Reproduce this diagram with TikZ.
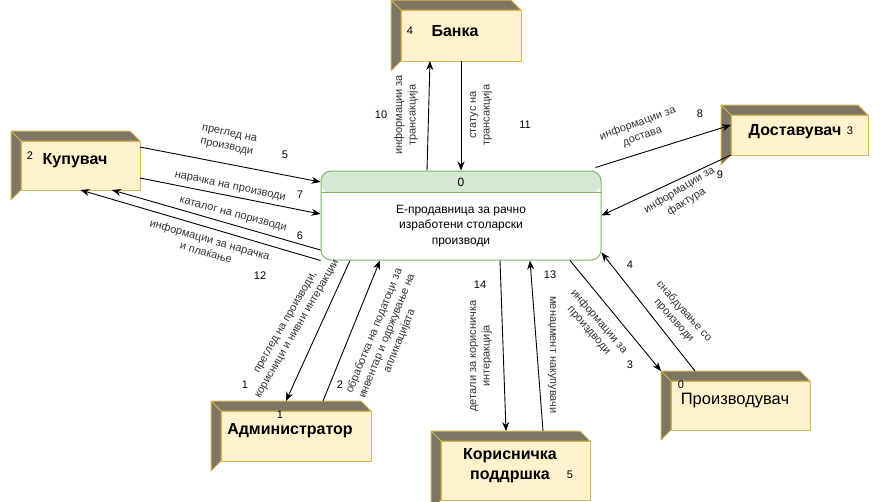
\documentclass[tikz,border=0pt]{standalone}
\usepackage{fontspec}
\setmainfont{Liberation Sans}
\usetikzlibrary{arrows.meta}

\definecolor{krem}{HTML}{FFF2CC}
\definecolor{zlatna}{HTML}{D6B656}
\definecolor{temna}{HTML}{7D7662}
\definecolor{zelena}{HTML}{D5E8D4}
\definecolor{zelenarab}{HTML}{82B366}

% zadna (temna) strana na kockata okolu eden entitet
\newcommand{\kockazad}[1]{%
  \filldraw[kocka] ([shift={(-10,10)}]#1.south west) -- ([shift={(-10,-10)}]#1.north west)
    -- ([shift={(-10,-10)}]#1.north east) -- (#1.north east) -- (#1.north west)
    -- (#1.south west) -- cycle;
  \draw[kocka] ([shift={(-10,-10)}]#1.north west) -- (#1.north west);}

\begin{document}
\begin{tikzpicture}[x=1pt, y=-1pt, >=Stealth,
    entitet/.style={draw=zlatna, fill=krem, line width=1pt, inner sep=0pt, outer sep=0pt},
    kocka/.style={fill=temna, draw=zlatna, line width=1pt, line join=round},
    ime/.style={font=\fontsize{16}{20}\selectfont\bfseries, align=center},
    mal/.style={font=\fontsize{11}{13}\selectfont},
    lbl/.style={font=\fontsize{11}{13.5}\selectfont, align=center, text=black!80},
    tek/.style={-{Stealth[length=9pt,width=7pt]}, line width=0.9pt}]

    \useasboundingbox (0,0) rectangle (881,501);

    % ==================================================
    % proces 0
    % ==================================================
    \node[draw=zelenarab, fill=white, line width=1pt, rounded corners=10pt,
          minimum width=280pt, minimum height=89pt, inner sep=0pt,
          path picture={\fill[zelena] (path picture bounding box.north west)
            rectangle ([yshift=-22pt]path picture bounding box.north east);}]
      (proc) at (461,215.5) {};
    \draw[zelenarab, line width=1pt] ([yshift=-22pt]proc.north west) -- ([yshift=-22pt]proc.north east);
    \node[font=\fontsize{12}{14}\selectfont] (procbr) at (461,182) {0};
    \node[font=\fontsize{12}{15.5}\selectfont, align=center] (proctekst) at (461,226)
      {Е-продавница за рачно\\изработени столарски\\производи};

    % ==================================================
    % entiteti
    % ==================================================

    % Банка
    \node[entitet, minimum width=120pt, minimum height=51pt] (banka) at (461,35.5) {};
    \kockazad{banka}
    \node[mal] (bankabr) at (410,31) {4};
    \node[ime] (bankaime) at (455,31) {Банка};

    % Купувач
    \node[entitet, minimum width=119pt, minimum height=49pt] (kupuvac) at (80.5,165.5) {};
    \kockazad{kupuvac}
    \node[mal] (kupuvacbr) at (30,156) {2};
    \node[ime] (kupuvacime) at (75,161) {Купувач};

    % Доставувач
    \node[entitet, minimum width=137pt, minimum height=40pt] (dostavuvac) at (799.5,135) {};
    \kockazad{dostavuvac}
    \node[ime] (dostavuvacime) at (795,132) {Доставувач};
    \node[mal] (dostavuvacbr) at (850,131) {3};

    % Администратор
    \node[entitet, minimum width=150pt, minimum height=50pt] (administrator) at (296,436) {};
    \kockazad{administrator}
    \node[mal] (administratorbr) at (280,415) {1};
    \node[ime] (administratorime) at (290,431) {Администратор};

    % Корисничка поддршка
    \node[entitet, minimum width=149pt, minimum height=59pt] (korisnicka) at (515.5,470.5) {};
    \kockazad{korisnicka}
    \node[ime] (korisnickaime) at (510,466) {Корисничка\\поддршка};
    \node[mal] (korisnickabr) at (570,475) {5};

    % Производувач
    \node[entitet, minimum width=139pt, minimum height=49pt] (proizveduvac) at (740.5,405.5) {};
    \kockazad{proizveduvac}
    \node[mal] (proizveduvacbr) at (681,385) {0};
    \node[font=\fontsize{16.5}{20}\selectfont] (proizveduvacime) at (735,401) {Производувач};

    % ==================================================
    % tekovi
    % ==================================================

    % Банка
    \draw[tek] ([xshift=-34pt]proc.north) -- ([xshift=-31pt]banka.south);
    \draw[tek] (banka.south) -- (proc.north);
    \node[lbl, rotate=90] (l10) at (406,115) {информации за\\трансакција};
    \node[mal] (b10) at (381,115) {10};
    \node[lbl, rotate=90] (l11) at (481,115) {статус на\\трансакција};
    \node[mal] (b11) at (525,125) {11};

    % Купувач
    \draw[tek] ([yshift=18.5pt]kupuvac.east) -- ([yshift=33.5pt]proc.west);
    \draw[tek] ([yshift=-12.5pt]kupuvac.east) -- ([yshift=1.5pt]proc.west);
    \draw[tek] ([yshift=-34.5pt]proc.west) -- ([xshift=31.5pt]kupuvac.south);
    \draw[tek] (proc.south west) -- (kupuvac.south);
    \node[lbl, rotate=-12] (l5) at (228,141) {преглед на\\производи};
    \node[mal] (b5) at (285,155) {5};
    \node[lbl, rotate=-12] (l7) at (230,187) {нарачка на производи};
    \node[mal] (b7) at (300,195) {7};
    \node[lbl, rotate=-15] (l6) at (233,215) {каталог на поризводи};
    \node[mal] (b6) at (300,236) {6};
    \node[lbl, rotate=-16] (l12) at (208,246) {информации за нарачка\\и плаќање};
    \node[mal] (b12) at (260,276) {12};

    % Доставувач
    \draw[tek] ([shift={(-6,-3)}]proc.north east) -- ([yshift=10pt]dostavuvac.west);
    \draw[tek] (dostavuvac.south west) -- (proc.east);
    \node[lbl, rotate=20] (l8) at (640,130) {информации за\\достава};
    \node[mal] (b8) at (700,114) {8};
    \node[lbl, rotate=31] (l9) at (683,196) {информации за\\фактура};
    \node[mal] (b9) at (720,175) {9};

    % Администратор
    \draw[tek] ([xshift=-111pt]proc.south) -- ([shift={(-10,-10)}]administrator.north);
    \draw[tek] ([shift={(27,-10)}]administrator.north) -- ([xshift=-81pt]proc.south);
    \node[lbl, rotate=60] (l1) at (292,326) {преглед на производи,\\корисници и нивни интеракции};
    \node[mal] (b1) at (245,385) {1};
    \node[lbl, rotate=68] (l2) at (387,336)
      {обработка на податоци за\\инвентар и одржување на\\апликацијата};
    \node[mal] (b2) at (340,385) {2};

    % Корисничка поддршка
    \draw[tek] ([xshift=39pt]proc.south) -- ([shift={(-9.5,-10)}]korisnicka.north);
    \draw[tek] ([shift={(27.5,-10)}]korisnicka.north) -- ([xshift=69pt]proc.south);
    \node[lbl, rotate=90] (l14) at (481,356) {детали за корисничка\\интеракција};
    \node[mal] (b14) at (480,285) {14};
    \node[lbl, rotate=-90] (l13) at (552,355) {менаџмент накупувачи};
    \node[mal] (b13) at (550,275) {13};

    % Производувач
    \draw[tek] ([xshift=109pt]proc.south) -- ([shift={(-10,-10)}]proizveduvac.north west);
    \draw[tek] ([shift={(24,-10)}]proizveduvac.north west) -- ([yshift=8pt]proc.south east);
    \node[lbl, rotate=-49] (l3) at (594,326) {информации за\\произдводи};
    \node[mal] (b3) at (630,365) {3};
    \node[lbl, rotate=-48] (l4) at (679,316) {снабдување со\\производи};
    \node[mal] (b4) at (630,265) {4};

  \end{tikzpicture}
\end{document}
